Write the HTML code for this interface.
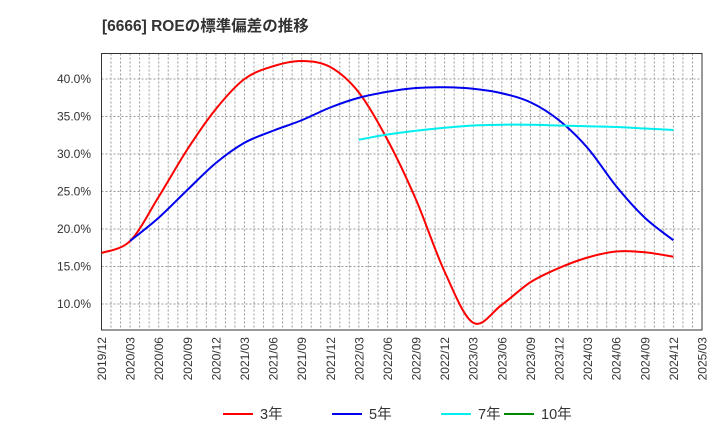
<!DOCTYPE html>
<html><head><meta charset="utf-8"><style>
body{margin:0;background:#fff;font-family:"Liberation Sans","Noto Sans CJK JP",sans-serif}
</style></head><body>
<svg width="720" height="440" xmlns="http://www.w3.org/2000/svg" id="chart" style="font-family:'Liberation Sans','Noto Sans CJK JP',sans-serif">
<text x="102" y="31" font-size="15.5" font-weight="bold" fill="#333">[6666]  ROEの標準偏差の推移</text>
<g id="grid"></g><g id="axes"></g><g id="series"></g><g id="legend"></g>
</svg>
<script>
const xLabels=["2019/12","2020/03","2020/06","2020/09","2020/12","2021/03","2021/06","2021/09","2021/12","2022/03","2022/06","2022/09","2022/12","2023/03","2023/06","2023/09","2023/12","2024/03","2024/06","2024/09","2024/12","2025/03"];
const yTicks=[10,15,20,25,30,35,40];
const s3=[16.8,18.4,24.3,30.6,36.0,40.0,41.7,42.4,41.6,38.2,31.9,23.9,14.3,7.5,9.9,12.9,14.8,16.2,17.0,16.9,16.3];
const s5=[null,18.4,21.5,25.2,28.8,31.5,33.1,34.5,36.2,37.5,38.3,38.8,38.9,38.7,38.1,36.9,34.5,30.8,25.7,21.5,18.5];
const s7=[null,null,null,null,null,null,null,null,null,31.9,32.6,33.1,33.5,33.8,33.9,33.9,33.8,33.7,33.6,33.4,33.2];
const s10=[];
const L=101.5,R=702,T=53.5,B=330;
const X=i=>L+i*(R-L)/21;
const Y=v=>304-(v-10)*7.5;
const NS="http://www.w3.org/2000/svg";
function mk(t,a,p){const e=document.createElementNS(NS,t);for(const k in a)e.setAttribute(k,a[k]);p.appendChild(e);return e;}
const grid=document.getElementById('grid'),axes=document.getElementById('axes'),ser=document.getElementById('series'),leg=document.getElementById('legend');
for(let m=1;m<63;m++){const x=L+m*(R-L)/63;const l=mk('line',{x1:x,x2:x,y1:T,y2:B,stroke:'#999','stroke-dasharray':'2,2','stroke-width':1},grid);

}
yTicks.forEach(v=>{const l=mk('line',{x1:L,x2:R,y1:Y(v),y2:Y(v),stroke:'#999','stroke-dasharray':'2,2'},grid);


const t=mk('text',{x:91,y:Y(v)+4,'font-size':12,fill:'#333','text-anchor':'end'},axes);t.textContent=v.toFixed(1)+'%';

});
const fr=mk('rect',{x:L,y:T,width:R-L,height:B-T,fill:'none',stroke:'#333','stroke-width':1},axes);


xLabels.forEach((s,i)=>{const x=X(i);const t=mk('text',{transform:`translate(${x+4.5},${B+7}) rotate(-90)`,'font-size':12,fill:'#333','text-anchor':'end'},axes);t.textContent=s;

});
function path(d){const p=[];d.forEach((v,i)=>{if(v!=null)p.push([X(i),Y(v)]);});if(p.length<2)return'';let s=`M${p[0][0]},${p[0][1]}`;
for(let i=0;i<p.length-1;i++){const p0=p[i-1]||p[i],p1=p[i],p2=p[i+1],p3=p[i+2]||p2;
s+=` C${p1[0]+(p2[0]-p0[0])/6},${p1[1]+(p2[1]-p0[1])/6} ${p2[0]-(p3[0]-p1[0])/6},${p2[1]-(p3[1]-p1[1])/6} ${p2[0]},${p2[1]}`;}return s;}
[[s3,'#ff0000','series-3y'],[s5,'#0000ee','series-5y'],[s7,'#00eeee','series-7y'],[s10,'#008800','series-10y']].forEach(([d,c,n])=>{const pd=path(d);if(!pd)return;
const e=mk('path',{d:pd,fill:'none',stroke:c,'stroke-width':2},ser);

});
[['3年','#ff0000',223],['5年','#0000ee',332],['7年','#00eeee',441],['10年','#008800',504]].forEach(([t,c,x])=>{
const g=mk('g',{},leg);


mk('line',{x1:x,x2:x+30,y1:414,y2:414,stroke:c,'stroke-width':2},g);
const tx=mk('text',{x:x+37,y:419,'font-size':14.5,fill:'#333'},g);tx.textContent=t;});
</script>
</body></html>
